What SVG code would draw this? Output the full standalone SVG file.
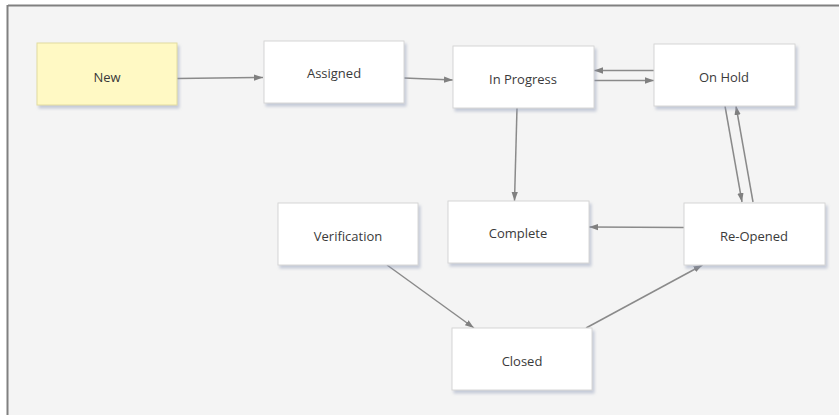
<svg xmlns="http://www.w3.org/2000/svg" width="839" height="415" viewBox="0 0 839 415">
<defs>
<filter id="sh" x="-10%" y="-10%" width="130%" height="140%">
<feGaussianBlur in="SourceAlpha" stdDeviation="1.5"/>
<feOffset dx="2" dy="3" result="b"/>
<feFlood flood-color="#8a96b4" flood-opacity="0.45"/>
<feComposite in2="b" operator="in"/>
<feMerge><feMergeNode/><feMergeNode in="SourceGraphic"/></feMerge>
</filter>
<marker id="ah" viewBox="0 0 10 10" refX="10" refY="5" markerWidth="9" markerHeight="9" markerUnits="userSpaceOnUse" orient="auto">
<path d="M0,1.5 L10,5 L0,8.5 Z" fill="#808080"/>
</marker>
</defs>
<style>
.n rect{fill:#ffffff;stroke:#d6d6d6;stroke-width:1;filter:url(#sh)}
.n.y rect{fill:#fff9c4;stroke:#e2dca0}
.n text{font-family:"Open Sans","Noto Sans",sans-serif;font-size:13px;fill:#3a3a3a;text-anchor:middle;dominant-baseline:central}
.e line{stroke:#8a8a8a;stroke-width:1.5;fill:none;marker-end:url(#ah)}
</style>
<rect x="0" y="0" width="839" height="415" fill="#ffffff"/>
<rect x="8" y="6" width="831" height="409" fill="#f4f4f4"/>
<line x1="8" y1="5.5" x2="839" y2="5.5" stroke="#808080" stroke-width="2"/>
<line x1="7.5" y1="5" x2="7.5" y2="415" stroke="#808080" stroke-width="2"/>
<g id="connectors" class="e">
<line x1="177" y1="78.5" x2="263" y2="77.5"/>
<line x1="404" y1="78" x2="453" y2="80"/>
<line x1="654" y1="70.5" x2="594" y2="70.5"/>
<line x1="594" y1="80.5" x2="654" y2="80.5"/>
<line x1="517" y1="108" x2="514.5" y2="201"/>
<line x1="725" y1="106" x2="742" y2="202"/>
<line x1="753" y1="202" x2="736" y2="106"/>
<line x1="684" y1="227.5" x2="589" y2="227"/>
<line x1="387" y1="265" x2="474" y2="328"/>
<line x1="586" y1="328" x2="702.5" y2="265"/>
</g>
<g id="node-new" class="n y"><rect x="37" y="43" width="140" height="62"/><text x="107" y="77">New</text></g>
<g id="node-assigned" class="n"><rect x="264" y="41" width="140" height="62"/><text x="334" y="73">Assigned</text></g>
<g id="node-inprogress" class="n"><rect x="453" y="46" width="141" height="62"/><text x="523" y="79">In Progress</text></g>
<g id="node-onhold" class="n"><rect x="654" y="44" width="141" height="62"/><text x="724" y="77">On Hold</text></g>
<g id="node-verification" class="n"><rect x="278" y="203" width="140" height="62"/><text x="348" y="236">Verification</text></g>
<g id="node-complete" class="n"><rect x="448" y="201" width="141" height="62"/><text x="518" y="233">Complete</text></g>
<g id="node-reopened" class="n"><rect x="684" y="203" width="141" height="62"/><text x="754" y="236">Re-Opened</text></g>
<g id="node-closed" class="n"><rect x="452" y="328" width="140" height="62"/><text x="522" y="361">Closed</text></g>
</svg>
